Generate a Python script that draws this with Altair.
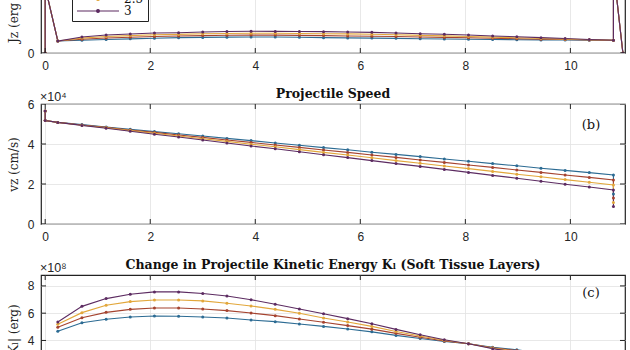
import altair as alt
import pandas as pd

# ---------------- data ----------------
series = ["1.5", "2", "2.5", "3"]
colors = ["#2c6b93", "#a5432f", "#e2a73b", "#5c2b61"]

layer_x = [0.24, 0.70, 1.16, 1.62, 2.08, 2.54, 3.00, 3.46, 3.92, 4.38, 4.84, 5.30,
           5.76, 6.22, 6.68, 7.14, 7.60, 8.06, 8.52, 8.98, 9.44, 9.90, 10.36, 10.82]

# (a) J_z
jz_head_x = [0.0, 0.0]
jz_head_y = [0.0, 5.5]
jz_tail_x = [10.82, 11.0]
jz_tail_y = [7.0, 0.0]
jz_15 = [1.0, 1.06, 1.13, 1.18, 1.23, 1.28, 1.30, 1.32, 1.33, 1.33, 1.31, 1.28,
         1.26, 1.24, 1.22, 1.19, 1.17, 1.15, 1.13, 1.11, 1.09, 1.08, 1.07, 1.06]
jz_20 = [1.0, 1.15, 1.25, 1.31, 1.38, 1.42, 1.45, 1.48, 1.49, 1.49, 1.47, 1.45,
         1.42, 1.40, 1.37, 1.33, 1.30, 1.27, 1.23, 1.19, 1.15, 1.12, 1.09, 1.06]
jz_25 = [1.0, 1.24, 1.38, 1.45, 1.52, 1.55, 1.60, 1.63, 1.65, 1.64, 1.63, 1.61,
         1.59, 1.56, 1.52, 1.47, 1.43, 1.38, 1.32, 1.27, 1.21, 1.16, 1.11, 1.06]
jz_30 = [1.0, 1.33, 1.50, 1.58, 1.67, 1.69, 1.75, 1.79, 1.81, 1.80, 1.79, 1.78,
         1.75, 1.72, 1.67, 1.61, 1.56, 1.50, 1.42, 1.35, 1.28, 1.21, 1.13, 1.06]

# (b) v_z  (x 1e4 cm/s)
v_head_x = [0.0, 0.0]
v_head_y = [5.65, 5.17]
v_15 = [5.08, 4.97, 4.85, 4.74, 4.62, 4.51, 4.40, 4.28, 4.17, 4.05, 3.94, 3.82,
        3.71, 3.59, 3.48, 3.37, 3.25, 3.14, 3.02, 2.91, 2.79, 2.68, 2.57, 2.45]
v_20 = [5.08, 4.95, 4.83, 4.70, 4.58, 4.45, 4.33, 4.20, 4.08, 3.95, 3.83, 3.70,
        3.58, 3.45, 3.33, 3.20, 3.08, 2.95, 2.83, 2.70, 2.58, 2.45, 2.33, 2.20]
v_25 = [5.08, 4.94, 4.81, 4.67, 4.54, 4.40, 4.26, 4.13, 3.99, 3.86, 3.72, 3.58,
        3.45, 3.31, 3.17, 3.04, 2.90, 2.77, 2.63, 2.49, 2.36, 2.22, 2.09, 1.95]
v_30 = [5.08, 4.93, 4.79, 4.64, 4.49, 4.35, 4.20, 4.05, 3.90, 3.76, 3.61, 3.46,
        3.32, 3.17, 3.02, 2.88, 2.73, 2.58, 2.43, 2.29, 2.14, 1.99, 1.85, 1.70]
v_tail_x = 10.82
v_tail_y = [1.50, 1.30, 1.07, 0.87]

# (c) |dK_L|  (x 1e8 erg)
k_15 = [4.67, 5.30, 5.55, 5.72, 5.79, 5.77, 5.72, 5.65, 5.50, 5.38, 5.21, 5.03,
        4.84, 4.63, 4.37, 4.14, 3.92, 3.76, 3.50, 3.32, 3.08, 2.85, 2.62, 2.40]
k_20 = [4.96, 5.67, 6.06, 6.28, 6.38, 6.38, 6.31, 6.19, 6.01, 5.82, 5.57, 5.34,
        5.09, 4.83, 4.52, 4.23, 3.96, 3.76, 3.47, 3.26, 3.00, 2.76, 2.52, 2.29]
k_25 = [5.18, 6.04, 6.58, 6.85, 6.97, 6.97, 6.90, 6.73, 6.53, 6.28, 5.99, 5.65,
        5.35, 5.03, 4.66, 4.33, 4.01, 3.76, 3.44, 3.19, 2.92, 2.67, 2.42, 2.18]
k_30 = [5.35, 6.50, 7.07, 7.39, 7.56, 7.56, 7.44, 7.26, 6.99, 6.65, 6.31, 5.96,
        5.60, 5.23, 4.81, 4.42, 4.05, 3.76, 3.40, 3.12, 2.85, 2.58, 2.32, 2.08]

x_ticks = [0, 2, 4, 6, 8, 10]
a_ticks = [0, 5, 10]
a_labels = [0, 5]
b_ticks = [0, 2, 4, 6]
c_ticks = [0, 2, 4, 6, 8]

title_b = "Projectile Speed"
title_c = "Change in Projectile Kinetic Energy Kₗ (Soft Tissue Layers)"
ytitle_a = "Jz (erg cm⁻² s⁻¹)"
ytitle_b = "vz (cm/s)"
ytitle_c = "|ΔKₗ| (erg)"
tag_b = "(b)"
tag_c = "(c)"
expo_b = "×10⁴"
expo_c = "×10⁸"

# ---------------- build tables ----------------
def build(parts):
    rows = []
    for s, (xs, ys) in zip(series, parts):
        for i, (xv, yv) in enumerate(zip(xs, ys)):
            rows.append({"x": xv, "y": yv, "s": s, "idx": i})
    return pd.DataFrame(rows)

df_a = build([(jz_head_x + layer_x + jz_tail_x, jz_head_y + v + jz_tail_y)
              for v in (jz_15, jz_20, jz_25, jz_30)])
df_b = build([(v_head_x + layer_x + [v_tail_x], v_head_y + v + [t])
              for v, t in zip((v_15, v_20, v_25, v_30), v_tail_y)])
df_c = build([(layer_x, v) for v in (k_15, k_20, k_25, k_30)])

# ---------------- styling ----------------
W, H = 584, 120
X_DOMAIN = [-0.08, 11.04]
SANS = "Liberation Sans"
SERIF = "DejaVu Serif"
INK = "#222222"
GRID = "#e2e2e2"
TL = 5


def panel(df, ydom, yticks, ylabels, ytitle, title=None, tag=None, tagy=20,
          expo=None, legend=None):
    xs = alt.Scale(domain=X_DOMAIN, nice=False, zero=False)
    ys = alt.Scale(domain=ydom, nice=False, zero=False)
    color = alt.Color("s:N", scale=alt.Scale(domain=series, range=colors),
                      legend=legend)
    xaxis = alt.Axis(values=x_ticks, grid=True, ticks=False, domain=False,
                     labelPadding=7, labelFont=SANS, labelFontSize=12,
                     labelColor="#262626", labelFlush=False, labelOverlap=False,
                     title=None, gridColor=GRID, gridWidth=0.8, format="d")
    yaxis = alt.Axis(values=ylabels, grid=True, ticks=False, domain=False,
                     labelPadding=7, labelFont=SANS, labelFontSize=12,
                     labelColor="#262626", labelFlush=False, labelOverlap=False,
                     title=ytitle, titleFont=SERIF, titleFontSize=12,
                     titleFontWeight="normal", titleColor="#222", titlePadding=7,
                     gridColor=GRID, gridWidth=0.8, format="d")
    base = alt.Chart(df)
    line = base.mark_line(strokeWidth=1.1, clip=True).encode(
        x=alt.X("x:Q", scale=xs, axis=xaxis),
        y=alt.Y("y:Q", scale=ys, axis=yaxis),
        color=color,
        order="idx:Q",
    )
    pts = base.mark_circle(size=9, opacity=1, clip=True).encode(
        x=alt.X("x:Q", scale=xs, axis=xaxis),
        y=alt.Y("y:Q", scale=ys, axis=yaxis),
        color=color,
    )
    xt = alt.Chart(pd.DataFrame({"x": x_ticks}))
    yt = alt.Chart(pd.DataFrame({"y": yticks}))
    rule = dict(color=INK, strokeWidth=1, clip=True)
    tb = xt.mark_rule(**rule).encode(x=alt.X("x:Q", scale=xs, axis=xaxis), y=alt.value(H), y2=alt.value(H - TL))
    tt = xt.mark_rule(**rule).encode(x=alt.X("x:Q", scale=xs, axis=xaxis), y=alt.value(0), y2=alt.value(TL))
    tl = yt.mark_rule(**rule).encode(y=alt.Y("y:Q", scale=ys, axis=yaxis), x=alt.value(0), x2=alt.value(TL))
    tr = yt.mark_rule(**rule).encode(y=alt.Y("y:Q", scale=ys, axis=yaxis), x=alt.value(W), x2=alt.value(W - TL))
    layers = [line, pts, tb, tt, tl, tr]
    if tag:
        layers.append(alt.Chart(pd.DataFrame({"t": [tag]})).mark_text(
            font=SERIF, fontSize=13, align="center", baseline="middle", color="#111"
        ).encode(text="t:N", x=alt.value(W - 34), y=alt.value(tagy)))
    if expo:
        layers.append(alt.Chart(pd.DataFrame({"t": [expo]})).mark_text(
            font=SANS, fontSize=12.5, align="left", baseline="alphabetic", color="#262626"
        ).encode(text="t:N", x=alt.value(-1), y=alt.value(-3)))
    ch = alt.layer(*layers).properties(width=W, height=H)
    if title:
        ch = ch.properties(title=alt.TitleParams(
            title, font=SERIF, fontSize=12.5, fontWeight="bold", frame="group",
            offset=-9, anchor="middle", color="#111"))
    return ch


legend_a = alt.Legend(
    orient="none", legendX=31, legendY=32, title=None, direction="vertical",
    strokeColor=INK, fillColor="white", padding=4, cornerRadius=0,
    labelFont=SERIF, labelFontSize=12, labelColor="#111",
    symbolType="M-1,0L7.4,0M3.48,0A0.28,0.28,0,1,1,2.92,0A0.28,0.28,0,1,1,3.48,0",
    symbolSize=100, symbolStrokeWidth=1.2, labelOffset=36, rowPadding=0,
)

pa = panel(df_a, [0, 10], a_ticks, a_labels, ytitle_a, legend=legend_a)
pb = panel(df_b, [0, 6], b_ticks, b_ticks, ytitle_b, title=title_b, tag=tag_b,
           tagy=21, expo=expo_b)
pc = panel(df_c, [0, 8.8], c_ticks, c_ticks, ytitle_c, title=title_c, tag=tag_c,
           tagy=18, expo=expo_c)

chart = (
    alt.vconcat(pa, pb, pc, spacing=51, bounds="flush")
    .resolve_scale(color="independent")
    .properties(padding={"left": 6, "top": -68, "right": 0, "bottom": 0},
                background="white")
    .configure_view(stroke=INK, strokeWidth=1.2)
)

chart.save("out.html", embed_options={"renderer": "svg", "actions": False})
